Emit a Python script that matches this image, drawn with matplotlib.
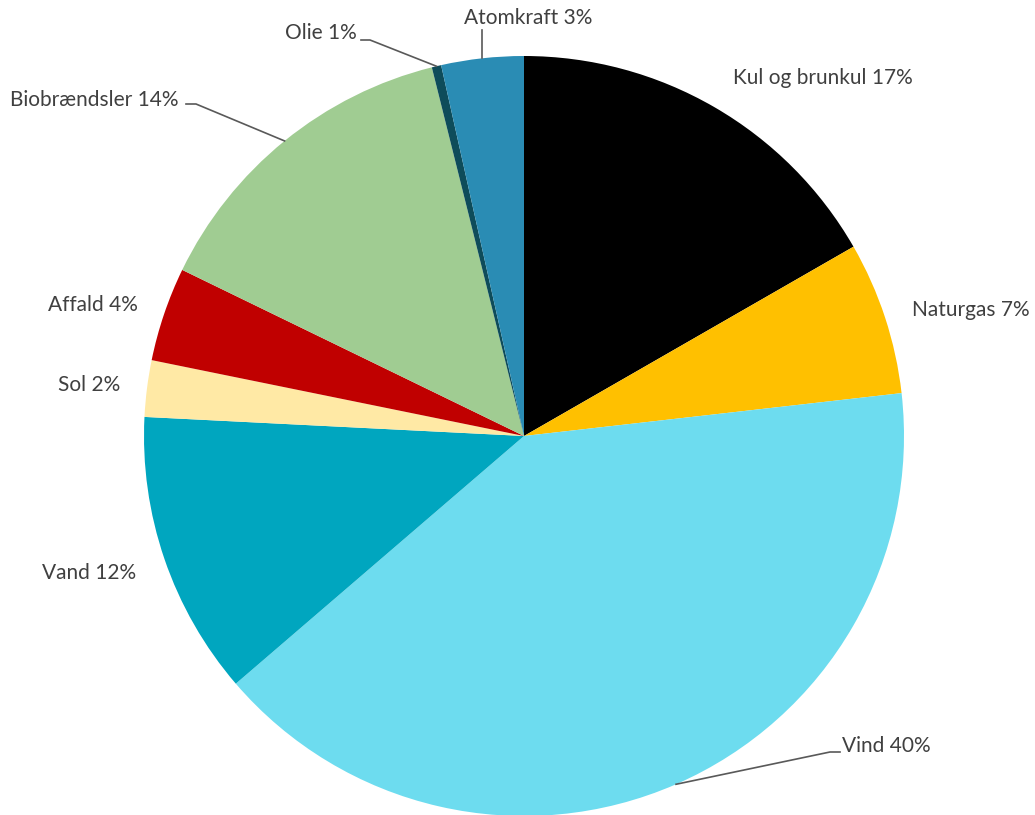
import numpy as np
import matplotlib.pyplot as plt

# shares of electricity production, clockwise from 12 o'clock
sources = ["Kul og brunkul", "Naturgas", "Vind", "Vand", "Sol", "Affald",
           "Biobrændsler", "Olie", "Atomkraft"]
shares = [16.7, 6.5, 40.5, 12.1, 2.4, 4.0, 13.9, 0.4, 3.5]
shown_pct = [17, 7, 40, 12, 2, 4, 14, 1, 3]
colors = ["#000000", "#FFC000", "#6DDCEF", "#00A6BF", "#FFE9A5", "#C00000",
          "#A0CC92", "#0E4C5A", "#2A8CB4"]

W, H = 1035, 815
fig = plt.figure(figsize=(W / 100, H / 100), dpi=100)
ax = fig.add_axes([0, 0, 1, 1])

cx, cy, r = 524, H - 436, 380
wedges, _ = ax.pie(shares, colors=colors, startangle=90, counterclock=False,
                   center=(cx, cy), radius=r, frame=True)
ax.set_xlim(0, W)
ax.set_ylim(0, H)
ax.set_aspect("equal")
ax.axis("off")

txt = dict(fontsize=15, color="#404040", family=["Lato", "DejaVu Sans"])

# label placement (pixel coords from top-left): x, y, ha, leader elbow
places = {
    "Kul og brunkul": (733, 78, "left", None),
    "Naturgas": (912, 310, "left", None),
    "Vind": (842, 746, "left", [(840, 752), (830, 752)]),
    "Vand": (42, 573, "left", None),
    "Sol": (58, 385, "left", None),
    "Affald": (48, 305, "left", None),
    "Biobrændsler": (10, 100, "left", [(186, 104), (196, 104)]),
    "Olie": (285, 33, "left", [(361, 40), (370, 40)]),
    "Atomkraft": (528, 18, "center", [(483, 30)]),
}

for w, name, pct in zip(wedges, sources, shown_pct):
    x, y, ha, elbow = places[name]
    ax.text(x, H - y, f"{name} {pct}%", ha=ha, va="center", **txt)
    if elbow:
        ang = np.deg2rad((w.theta1 + w.theta2) / 2)
        ex, ey = cx + r * np.cos(ang), cy + r * np.sin(ang)
        xs = [px for px, py in elbow] + [ex]
        ys = [H - py for px, py in elbow] + [ey]
        if name == "Atomkraft":
            xs = [ex, ex]
        ax.plot(xs, ys, color="#595959", lw=1.2)

fig.savefig("out.png", dpi=100, facecolor="white")
